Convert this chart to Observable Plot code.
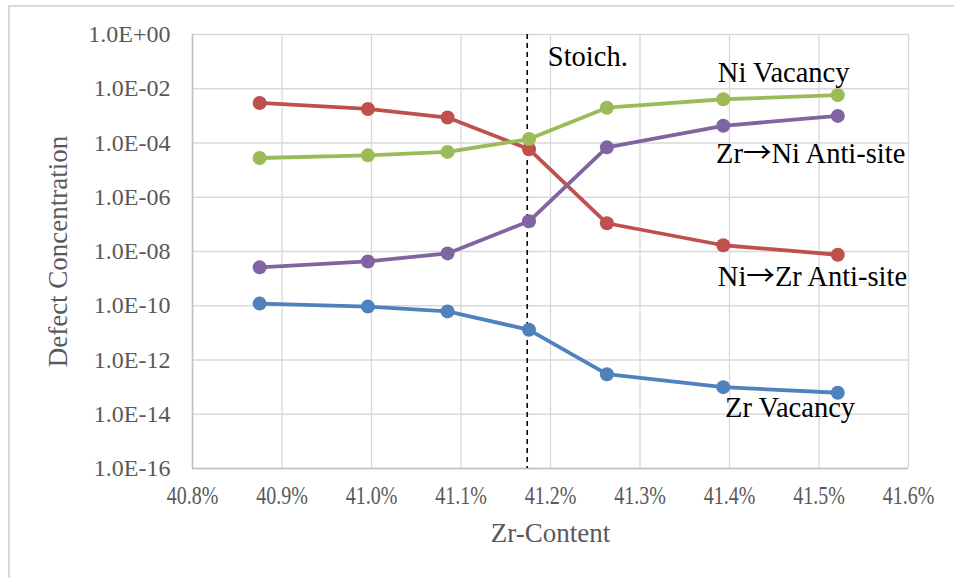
<!DOCTYPE html>
<html>
<head>
<meta charset="utf-8">
<script src="https://cdn.jsdelivr.net/npm/d3@7"></script>
<script src="https://cdn.jsdelivr.net/npm/@observablehq/plot@0.6"></script>
<style>
  html, body { margin: 0; padding: 0; background: #fff; overflow: hidden; }
  #wrap { position: relative; width: 954px; height: 578px; }
  #border { position: absolute; left: 8px; top: 5px; width: 980px; height: 620px;
            border: 2px solid #d9d9d9; box-sizing: border-box; pointer-events: none; }
</style>
</head>
<body>
<div id="wrap"><div id="border"></div><div id="chart"></div></div>
<script>
// ---- data ----
const zrContent = [40.875, 40.996, 41.085, 41.176, 41.263, 41.393, 41.521];
const zrVacancy = [1.2e-10, 9.3e-11, 6.2e-11, 1.3e-11, 3.0e-13, 1.0e-13, 6.2e-14];
const niZrAntisite = [3.0e-3, 1.8e-3, 8.7e-4, 5.9e-5, 1.1e-7, 1.7e-8, 7.6e-9];
const zrNiAntisite = [2.6e-9, 4.3e-9, 8.5e-9, 1.3e-7, 6.9e-5, 4.3e-4, 1.0e-3];
const niVacancy = [2.8e-5, 3.5e-5, 4.7e-5, 1.4e-4, 2.0e-3, 4.1e-3, 5.8e-3];
const stoichX = [41.174];
const xTicks = [40.8, 40.9, 41.0, 41.1, 41.2, 41.3, 41.4, 41.5, 41.6];
const yTicks = [1e0, 1e-2, 1e-4, 1e-6, 1e-8, 1e-10, 1e-12, 1e-14, 1e-16];
const labelNames = ["Stoich.", "Ni Vacancy", "Zr\u2192Ni Anti-site", "Ni\u2192Zr Anti-site", "Zr Vacancy"];
const labelX = [41.197, 41.387, 41.385, 41.387, 41.395];
const labelY = [0.147, 0.0378, 3.9e-5, 1.2e-9, 1.65e-14];

// ---- build ----
const seriesList = [
  {name: "Ni\u2192Zr Anti-site", values: niZrAntisite, color: "#c0504d"},
  {name: "Zr\u2192Ni Anti-site", values: zrNiAntisite, color: "#8064a2"},
  {name: "Ni Vacancy", values: niVacancy, color: "#9bbb59"},
  {name: "Zr Vacancy", values: zrVacancy, color: "#4f81bd"}
];
const labels = labelNames.map((t, i) => ({t, x: labelX[i], y: labelY[i]}));

const fmtY = d => {
  const e = Math.round(Math.log10(d));
  return "1.0E" + (e < 0 ? "-" : "+") + String(Math.abs(e)).padStart(2, "0");
};
const fmtX = d => d.toFixed(1) + "%";

const marks = [
  Plot.gridX(xTicks, {stroke: "#d9d9d9", strokeOpacity: 1, strokeWidth: 1.3}),
  Plot.gridY(yTicks, {stroke: "#d9d9d9", strokeOpacity: 1, strokeWidth: 1.3}),
  Plot.ruleX([xTicks[0]], {stroke: "#bfbfbf", strokeWidth: 1.5}),
  Plot.ruleY([yTicks[yTicks.length - 1]], {stroke: "#bfbfbf", strokeWidth: 1.5}),
  Plot.axisY(yTicks, {tickSize: 0, tickPadding: 22, tickFormat: fmtY, fontSize: 24, fill: "#595959", label: null}),
  Plot.axisX(xTicks, {tickSize: 0, tickPadding: 18, tickFormat: fmtX, fontSize: 25, fill: "#595959", label: null}),
  Plot.ruleX(stoichX, {stroke: "#000", strokeWidth: 1.6, strokeDasharray: "5,4"})
];
for (const s of seriesList) {
  const rows = zrContent.map((x, i) => ({x, y: s.values[i]}));
  marks.push(Plot.line(rows, {x: "x", y: "y", stroke: s.color, strokeWidth: 3.8}));
  marks.push(Plot.dot(rows, {x: "x", y: "y", r: 7, fill: s.color, stroke: "none"}));
}
marks.push(Plot.text(labels, {x: "x", y: "y", text: "t", textAnchor: "start", lineAnchor: "middle", fontSize: 28.5, fill: "#000"}));
marks.push(Plot.text(["Defect Concentration"], {frameAnchor: "left", dx: -134, rotate: -90, fontSize: 27, fill: "#595959", textAnchor: "middle", lineAnchor: "middle"}));
marks.push(Plot.text(["Zr-Content"], {frameAnchor: "bottom", dy: 65, fontSize: 27, fill: "#595959", textAnchor: "middle", lineAnchor: "middle"}));

const chart = Plot.plot({
  width: 954,
  height: 578,
  marginLeft: 192,
  marginRight: 46,
  marginTop: 34,
  marginBottom: 110,
  style: {fontFamily: "'Liberation Serif', 'Times New Roman', serif", background: "transparent", overflow: "visible"},
  x: {domain: [40.8, 41.6], axis: null},
  y: {type: "log", domain: [1e-16, 1], axis: null},
  marks
});
document.getElementById("chart").appendChild(chart);

// condense x tick labels as in the reference
chart.querySelectorAll('g[aria-label="x-axis tick label"] text').forEach(t => {
  const tr = t.getAttribute("transform");
  if (tr) t.setAttribute("transform", tr + " scale(0.8,1)");
});
// render the arrow glyph with a full-width arrow font
chart.querySelectorAll("text").forEach(t => {
  const s = t.textContent;
  if (!s.includes("\u2192") || t.children.length) return;
  const i = s.indexOf("\u2192");
  t.textContent = "";
  const ns = "http://www.w3.org/2000/svg";
  const a = document.createElementNS(ns, "tspan"); a.textContent = s.slice(0, i);
  const b = document.createElementNS(ns, "tspan"); b.textContent = "\u2192";
  b.setAttribute("font-family", "'Noto Sans CJK JP', 'DejaVu Sans', sans-serif");
  const c = document.createElementNS(ns, "tspan"); c.textContent = s.slice(i + 1);
  t.append(a, b, c);
});
</script>
</body>
</html>
